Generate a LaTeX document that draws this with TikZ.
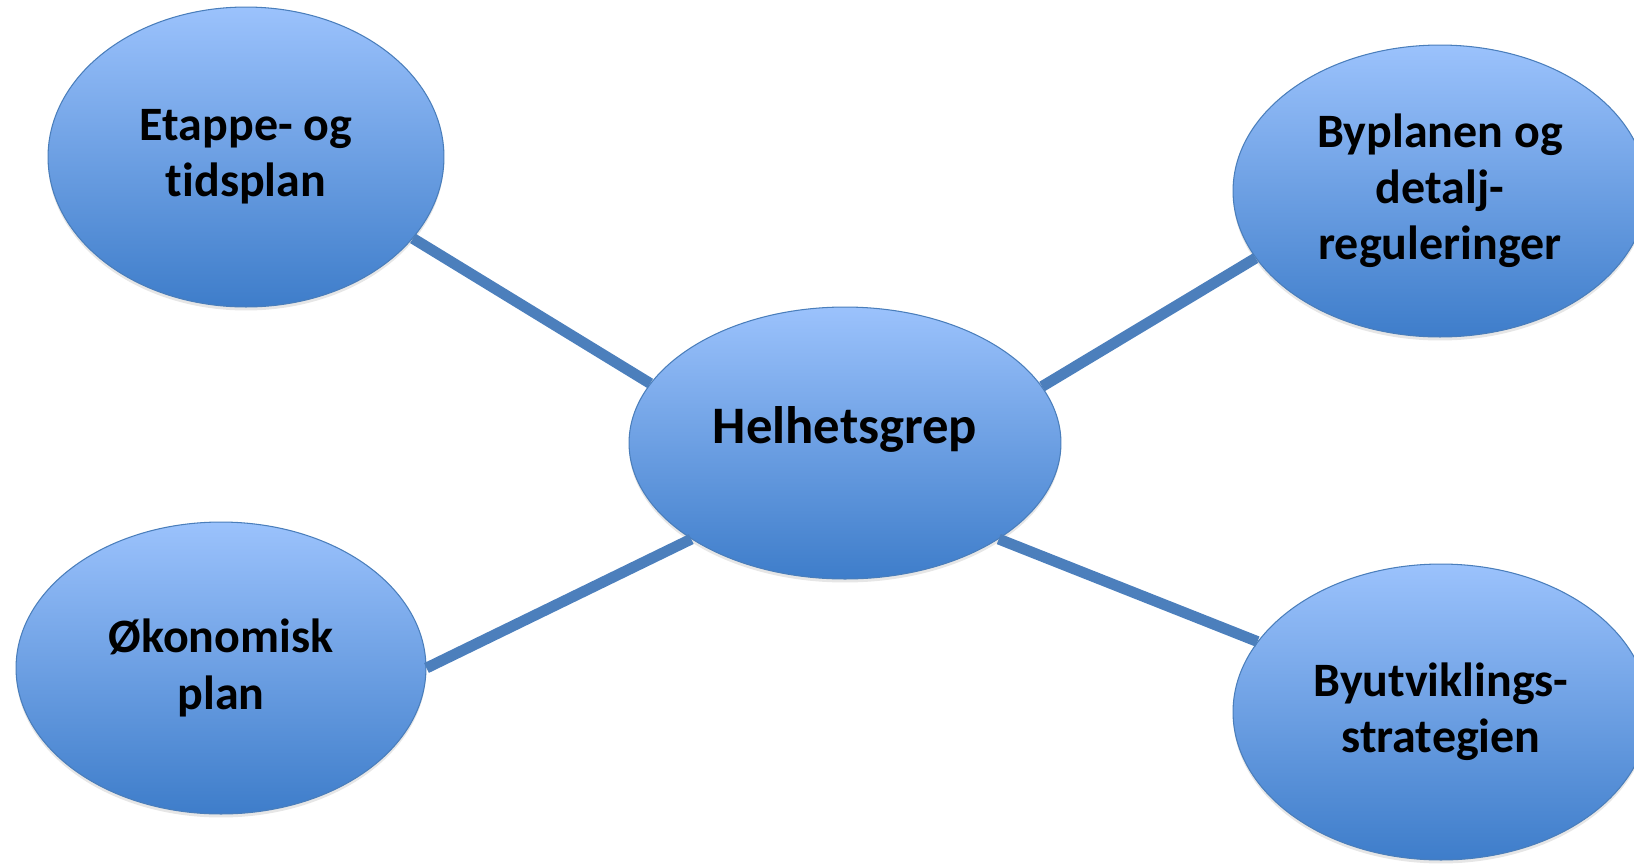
\documentclass[tikz,border=0pt]{standalone}
\usepackage{fontspec}
\setmainfont{Carlito}[Ligatures=NoCommon]
\usetikzlibrary{shapes.geometric,shadows}

\definecolor{bubbletop}{RGB}{155,194,252}
\definecolor{bubblebot}{RGB}{62,125,202}
\definecolor{bubbleline}{RGB}{74,126,187}
\definecolor{linkblue}{RGB}{76,127,188}

\tikzset{
    link/.style={draw=linkblue,line width=6.2pt,line cap=butt},
    hub/.style={font=\fontsize{30pt}{36pt}\selectfont\bfseries,
        text height=15pt,text depth=15pt}
}

\begin{document}
\begin{tikzpicture}[x=0.02cm,y=-0.02cm]
        \useasboundingbox (0,0) rectangle (1634,863);
        \begin{scope}[every node/.style={ellipse,draw=bubbleline,line width=0.6pt,
                        top color=bubbletop,bottom color=bubblebot,
                        inner sep=0pt,align=center,
                        font=\fontsize{27.3pt}{32pt}\selectfont\bfseries,
                        drop shadow={shadow xshift=0pt,shadow yshift=-2pt,opacity=0.2}}]
            \node[minimum width=7.92cm,minimum height=6cm] (etp) at (246,157) {Etappe- og\\tidsplan};
            \node[minimum width=8.28cm,minimum height=5.84cm] (byp) at (1440,191) {Byplanen og\\detalj-\\reguleringer};
            \node[minimum width=8.64cm,minimum height=5.44cm,hub] (hel) at (845,443) {Helhetsgrep};
            \node[minimum width=8.2cm,minimum height=5.84cm] (oko) at (221,668) {Økonomisk\\plan};
            \node[minimum width=8.32cm,minimum height=5.92cm] (byu) at (1441,712) {Byutviklings-\\strategien};
        \end{scope}

        \path (etp.-26) edge[link] (hel.163);
        \path (byp.200) edge[link] (hel.16);
        \path (oko.0) edge[link] (hel.212);
        \path (byu.159) edge[link] (hel.-32);
    \end{tikzpicture}
\end{document}
